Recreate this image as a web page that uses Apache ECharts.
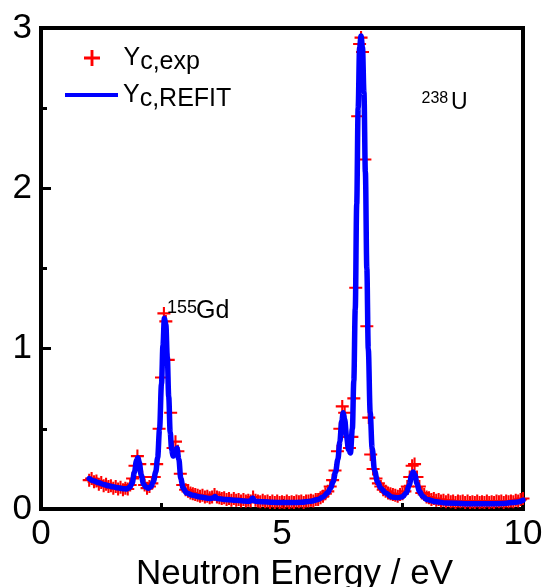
<!DOCTYPE html>
<html><head><meta charset="utf-8">
<script src="https://cdn.jsdelivr.net/npm/echarts@6/dist/echarts.min.js"></script>
<style>html,body{margin:0;padding:0;background:#fff}#c{width:547px;height:587px}</style>
</head><body><div id="c"></div>
<script>
// ---- data ----
const fitEnergy = [1.00,1.10,1.20,1.30,1.40,1.50,1.60,1.70,1.78,1.84,1.89,1.94,1.98,2.01,2.04,2.08,2.13,2.18,2.23,2.28,2.33,2.38,2.42,2.46,2.50,2.53,2.56,2.59,2.62,2.65,2.68,2.71,2.74,2.78,2.82,2.86,2.90,2.95,3.02,3.15,3.30,3.50,3.57,3.61,3.65,3.80,4.00,4.20,4.34,4.39,4.44,4.60,4.80,5.00,5.20,5.40,5.60,5.75,5.85,5.94,6.01,6.06,6.11,6.16,6.20,6.24,6.27,6.30,6.34,6.38,6.42,6.46,6.49,6.52,6.55,6.58,6.61,6.64,6.67,6.70,6.73,6.76,6.79,6.83,6.87,6.92,6.98,7.05,7.15,7.28,7.40,7.50,7.58,7.64,7.69,7.72,7.76,7.80,7.85,7.92,8.00,8.20,8.40,8.80,9.20,9.60,9.85,10.00];
const fitYield  = [0.19,0.175,0.163,0.153,0.145,0.138,0.132,0.127,0.125,0.135,0.16,0.23,0.30,0.32,0.29,0.21,0.155,0.135,0.13,0.14,0.17,0.23,0.32,0.50,0.78,1.02,1.19,1.15,0.95,0.70,0.48,0.37,0.33,0.35,0.38,0.31,0.19,0.13,0.10,0.085,0.075,0.066,0.068,0.078,0.066,0.06,0.055,0.05,0.048,0.068,0.048,0.045,0.042,0.04,0.04,0.042,0.048,0.06,0.075,0.10,0.13,0.17,0.23,0.31,0.42,0.55,0.60,0.56,0.45,0.37,0.35,0.50,0.80,1.25,1.90,2.50,2.88,2.95,2.88,2.60,2.10,1.50,1.00,0.60,0.38,0.24,0.17,0.13,0.10,0.075,0.07,0.077,0.10,0.15,0.21,0.23,0.21,0.16,0.11,0.08,0.06,0.045,0.038,0.033,0.032,0.035,0.042,0.055];

const expEnergy = [1.00,1.05,1.10,1.15,1.20,1.25,1.30,1.35,1.40,1.45,1.50,1.55,1.60,1.65,1.70,1.75,1.80,1.85,1.90,1.95,2.00,2.05,2.10,2.15,2.20,2.25,2.30,2.35,2.40,2.45,2.50,2.55,2.59,2.64,2.69,2.74,2.79,2.84,2.89,2.94,3.00,3.05,3.10,3.15,3.20,3.25,3.30,3.35,3.40,3.45,3.50,3.55,3.60,3.65,3.70,3.75,3.80,3.85,3.90,3.95,4.00,4.05,4.10,4.15,4.20,4.25,4.30,4.35,4.40,4.45,4.50,4.55,4.60,4.65,4.70,4.75,4.80,4.85,4.90,4.95,5.00,5.05,5.10,5.15,5.20,5.25,5.30,5.35,5.40,5.45,5.50,5.55,5.60,5.65,5.70,5.75,5.80,5.85,5.90,5.95,6.00,6.05,6.10,6.15,6.20,6.25,6.30,6.35,6.40,6.45,6.49,6.53,6.57,6.61,6.64,6.67,6.72,6.76,6.80,6.84,6.89,6.95,7.00,7.05,7.10,7.15,7.20,7.25,7.30,7.35,7.40,7.45,7.50,7.55,7.60,7.65,7.70,7.75,7.80,7.85,7.90,7.95,8.00,8.05,8.10,8.15,8.20,8.25,8.30,8.35,8.40,8.45,8.50,8.55,8.60,8.65,8.70,8.75,8.80,8.85,8.90,8.95,9.00,9.05,9.10,9.15,9.20,9.25,9.30,9.35,9.40,9.45,9.50,9.55,9.60,9.65,9.70,9.75,9.80,9.85,9.90,9.95,10.00];
const expYield  = [0.18,0.19,0.17,0.175,0.155,0.165,0.145,0.155,0.14,0.145,0.13,0.14,0.125,0.135,0.12,0.13,0.125,0.15,0.19,0.27,0.33,0.28,0.20,0.15,0.13,0.14,0.16,0.20,0.28,0.50,0.82,1.22,1.17,0.93,0.60,0.38,0.42,0.36,0.22,0.15,0.12,0.11,0.10,0.095,0.09,0.085,0.08,0.085,0.075,0.08,0.07,0.075,0.09,0.075,0.07,0.065,0.07,0.06,0.065,0.055,0.065,0.055,0.06,0.05,0.06,0.05,0.055,0.05,0.075,0.055,0.05,0.045,0.055,0.045,0.05,0.04,0.05,0.04,0.05,0.04,0.045,0.04,0.05,0.04,0.045,0.04,0.05,0.045,0.05,0.04,0.05,0.05,0.055,0.05,0.06,0.06,0.07,0.08,0.095,0.11,0.14,0.18,0.24,0.36,0.50,0.64,0.60,0.45,0.38,0.45,0.69,1.38,2.45,2.90,2.94,2.85,2.18,1.14,0.57,0.34,0.25,0.19,0.16,0.14,0.12,0.11,0.10,0.095,0.09,0.085,0.08,0.09,0.095,0.11,0.14,0.20,0.27,0.28,0.20,0.14,0.10,0.09,0.075,0.07,0.06,0.065,0.055,0.06,0.05,0.055,0.045,0.055,0.045,0.05,0.04,0.05,0.045,0.05,0.04,0.05,0.04,0.045,0.04,0.05,0.04,0.045,0.04,0.05,0.04,0.045,0.04,0.05,0.045,0.05,0.04,0.05,0.045,0.05,0.045,0.055,0.05,0.06,0.065];

const xRange = [0, 10];
const yRange = [0, 3];
const seriesNames = ['Yc,exp', 'Yc,REFIT'];
const legendMain = ['Y', 'Y'];
const legendSub = ['c,exp', 'c,REFIT'];
const xTitle = 'Neutron Energy / eV';
const gdMass = '155', gdSym = 'Gd', uMass = '238', uSym = 'U';

// ---- chart ----
const FONT = '"Liberation Sans", Arial, sans-serif';
const plusPath = 'path://M0,4.2H10V5.8H0Z M4.2,0H5.8V10H4.2Z';
const legendPlus = 'path://M0,4.1H10V5.9H0Z M4.1,0H5.9V10H4.1Z';
const legendText = {
  color: '#000',
  rich: {
    y: {fontSize: 25, lineHeight: 25, verticalAlign: 'top', fontFamily: FONT, color: '#000'},
    s: {fontSize: 25, lineHeight: 25, padding: [9, 0, 0, 0], fontFamily: FONT, color: '#000'}
  }
};
function legendFmt(name) {
  const i = seriesNames.indexOf(name);
  return '{y|' + legendMain[i] + '}{s|' + legendSub[i] + '}';
}
const chart = echarts.init(document.getElementById('c'), null, {renderer: 'canvas'});
chart.setOption({
  animation: false,
  backgroundColor: '#ffffff',
  grid: {left: 41, right: 24, top: 28, bottom: 78, outerBoundsMode: 'none', containLabel: false,
         show: true, borderColor: '#000', borderWidth: 4, backgroundColor: 'transparent'},
  legend: [
    {
      orient: 'vertical', left: 84, top: 41, padding: 0,
      itemWidth: 53, itemHeight: 16,
      data: [{name: seriesNames[0], icon: legendPlus}],
      formatter: legendFmt, textStyle: legendText
    },
    {
      orient: 'vertical', left: 65, top: 78, padding: 0,
      itemWidth: 53, itemHeight: 4,
      data: [{name: seriesNames[1], icon: 'rect'}],
      formatter: legendFmt, textStyle: legendText
    }
  ],
  xAxis: {
    type: 'value', min: xRange[0], max: xRange[1], interval: 5,
    axisLine: {lineStyle: {color: '#000', width: 4}},
    axisTick: {inside: true, length: 10, lineStyle: {color: '#000', width: 3}},
    minorTick: {show: true, splitNumber: 2, length: 6, lineStyle: {color: '#000', width: 3}},
    splitLine: {show: false},
    axisLabel: {fontSize: 35, color: '#000', margin: 8, fontFamily: FONT},
    name: xTitle, nameLocation: 'middle', nameGap: 40,
    nameTextStyle: {fontSize: 35, color: '#000', fontFamily: FONT, padding: [0, 0, 0, 25]}
  },
  yAxis: {
    type: 'value', min: yRange[0], max: yRange[1], interval: 1,
    axisLine: {show: true, lineStyle: {color: '#000', width: 4}},
    axisTick: {show: true, inside: true, length: 10, lineStyle: {color: '#000', width: 3}},
    minorTick: {show: true, splitNumber: 2, length: 6, lineStyle: {color: '#000', width: 3}},
    splitLine: {show: false},
    axisLabel: {fontSize: 35, color: '#000', margin: 9, fontFamily: FONT}
  },
  graphic: [
    {type: 'text', x: 167, y: 307.7, z: 10, style: {text: gdMass, font: '18px ' + FONT, fill: '#000', verticalAlign: 'middle'}},
    {type: 'text', x: 196, y: 311.3, z: 10, style: {text: gdSym, font: '25px ' + FONT, fill: '#000', verticalAlign: 'middle'}},
    {type: 'text', x: 421.5, y: 98.4, z: 10, style: {text: uMass, font: '16px ' + FONT, fill: '#000', verticalAlign: 'middle'}},
    {type: 'text', x: 451, y: 103, z: 10, style: {text: uSym, font: '23px ' + FONT, fill: '#000', verticalAlign: 'middle'}}
  ],
  series: [
    {
      name: seriesNames[0], type: 'scatter',
      data: expEnergy.map((e, i) => [e, expYield[i]]),
      symbol: plusPath, symbolSize: 13, symbolKeepAspect: true,
      itemStyle: {color: '#ff0000', opacity: 1}, z: 2
    },
    {
      name: seriesNames[1], type: 'line',
      data: fitEnergy.map((e, i) => [e, fitYield[i]]),
      showSymbol: false, symbol: 'none', smooth: 0.35, smoothMonotone: 'x',
      lineStyle: {color: '#0000ff', width: 5.5, cap: 'round', join: 'round'},
      itemStyle: {color: '#0000ff'}, z: 3
    }
  ]
});
</script></body></html>
